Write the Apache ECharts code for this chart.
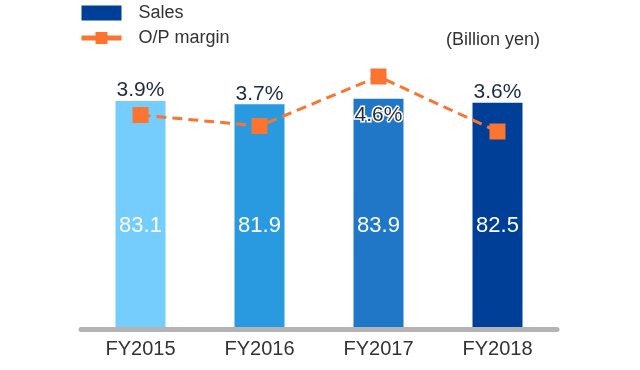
<!DOCTYPE html>
<html><head><meta charset="utf-8">
<script src="https://cdn.jsdelivr.net/npm/echarts@6/dist/echarts.min.js"></script>
<style>html,body{margin:0;padding:0;background:#fff}#c{width:640px;height:370px}</style>
</head><body><div id="c"></div>
<script>
const categories = ['FY2015', 'FY2016', 'FY2017', 'FY2018'];
const sales = [83.1, 81.9, 83.9, 82.5];
const margin = [3.9, 3.7, 4.6, 3.6];
const barColors = ['#74cdfd', '#2a9ae0', '#2077c7', '#003f98'];
const FONT = '"Liberation Sans", Arial, sans-serif';

const chart = echarts.init(document.getElementById('c'), null, {renderer: 'canvas'});
chart.setOption({
  animation: false,
  textStyle: {fontFamily: FONT},
  grid: {left: 81, right: 83, top: 54.5, bottom: 40.5},
  legend: {
    orient: 'vertical', left: 79, top: 4, padding: 0, itemWidth: 40, itemHeight: 15, itemGap: 7,
    textStyle: {fontSize: 18, color: '#333', fontFamily: FONT, padding: [0, 0, 0, 12]},
    data: [
      {name: 'Sales', icon: 'rect', itemStyle: {color: '#003f98'}},
      {name: 'O/P margin', lineStyle: {type: 'solid', width: 5}}
    ]
  },
  graphic: [{
    type: 'text', left: 446, top: 31,
    style: {text: '(Billion yen)', font: '18px ' + FONT, fill: '#333'}
  }],
  xAxis: {
    type: 'category', data: categories, z: 5,
    axisLine: {lineStyle: {color: '#b4b4b4', width: 5}},
    axisTick: {show: false},
    axisLabel: {fontSize: 20, color: '#333', margin: 10, fontFamily: FONT}
  },
  yAxis: [
    {type: 'value', min: 0, max: 100, show: false, splitLine: {show: false}},
    {type: 'value', min: 0, max: 5, show: false, splitLine: {show: false}}
  ],
  series: [
    {
      name: 'Sales', type: 'bar', barWidth: 50,
      data: sales.map((v, i) => ({value: v, itemStyle: {color: barColors[i]}})),
      label: {show: true, position: 'insideBottom', distance: 93, color: '#fff', fontSize: 22, fontFamily: FONT}
    },
    {
      name: 'marginLabel', type: 'bar', barWidth: 50, barGap: '-100%', z: 4,
      itemStyle: {color: 'rgba(0,0,0,0)'},
      data: sales.map((v, i) => i === 2 ? {
        value: v,
        label: {position: 'insideTop', distance: 6, textBorderColor: '#fff', textBorderWidth: 3}
      } : v),
      label: {
        show: true, position: 'top', distance: 0, color: '#1e2b45', fontSize: 21, fontFamily: FONT,
        formatter: p => margin[p.dataIndex].toFixed(1) + '%'
      },
      silent: true
    },
    {
      name: 'O/P margin', type: 'line', yAxisIndex: 1, z: 6,
      data: margin,
      symbol: 'rect', symbolSize: 16,
      itemStyle: {color: '#fb7430'},
      lineStyle: {color: '#fb7430', width: 3, type: [10, 6]}
    }
  ]
});
</script></body></html>
